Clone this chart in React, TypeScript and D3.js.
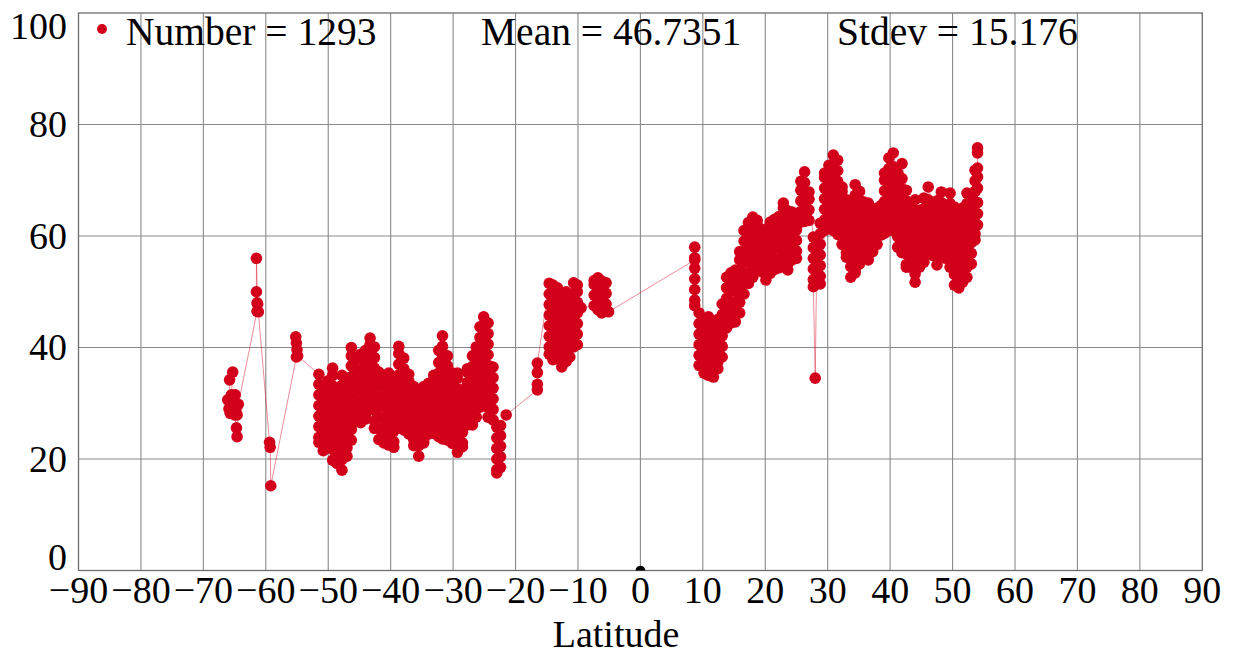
import * as d3 from 'd3'
import React, { useRef, useEffect } from 'react'

// Tick labels
const latTicks = [-90, -80, -70, -60, -50, -40, -30, -20, -10, 0, 10, 20, 30, 40, 50, 60, 70, 80, 90]
const valueTicks = [0, 20, 40, 60, 80, 100]
const legendLabels = ['Number = 1293', 'Mean = 46.7351', 'Stdev = 15.176']
const originMark: [number, number][] = [[0, 0]]

// Southern tip, single points [lat, value]
const southTip: [number, number][] = [
  [-66.1, 30.6], [-65.9, 29], [-65.8, 34.2], [-65.3, 35.6], [-65.5, 31.5], [-65.7, 28.2],
  [-65.2, 29.5], [-64.9, 31.5], [-64.8, 28.8], [-64.6, 27.9], [-65.0, 27.9], [-64.7, 25.6],
  [-64.6, 24], [-64.4, 29.8],
  [-61.4, 46.5], [-61.4, 48], [-61.5, 50], [-61.5, 56], [-61.3, 47.8], [-61.2, 46.4],
  [-59.4, 23], [-59.3, 22.1], [-59.2, 15.2],
  [-55.1, 38.3], [-55.0, 39.6], [-55.1, 40.8], [-55.2, 41.9], [-54.9, 38.5],
]

// Columns [lat, values at that lat], in track order
const southBand: [number, number[]][] = [
  [-51.5, [35.2, 33.4, 31.5, 29.6, 27.7, 25.8, 23.9, 23]],
  [-50.8, [21.5, 23.4, 25.3, 27.2, 29.1, 31, 33]],
  [-50.1, [34, 32.1, 30.2, 28.3, 26.4, 24.5, 22.4]],
  [-49.3, [19.8, 21.7, 23.6, 25.5, 27.4, 29.3, 31.2, 33.1, 35, 36.3]],
  [-48.6, [32.4, 30.5, 28.6, 26.7, 24.8, 22.9, 21, 19.2]],
  [-47.8, [18, 19.9, 21.8, 23.7, 25.6, 27.5, 29.4, 31.3, 33.2, 35]],
  [-47.0, [33.5, 31.6, 29.7, 27.8, 25.9, 24, 22, 20.5]],
  [-46.3, [23.4, 25.3, 27.2, 29.1, 31, 32.9, 34.8, 36.7, 38.5, 40]],
  [-45.6, [37.8, 35.9, 34, 32.1, 30.2, 28.3, 26.8]],
  [-44.8, [26.5, 28.4, 30.3, 32.2, 34.1, 36, 37.9, 38.8]],
  [-44.0, [39.5, 37.6, 35.7, 33.8, 31.9, 30, 28.1, 27.2]],
  [-43.3, [29.3, 31.2, 33.1, 35, 36.9, 38.8, 40.5, 41.7]],
  [-42.6, [40.1, 38.2, 36.3, 34.4, 32.5, 30.6, 28.7, 26.8, 25.5]],
  [-41.9, [23.5, 25.4, 27.3, 29.2, 31.1, 33, 34.9, 35.6]],
  [-41.1, [35, 33.1, 31.2, 29.3, 27.4, 25.5, 23.6, 22.9]],
  [-40.3, [22.5, 24.4, 26.3, 28.2, 30.1, 32, 33.9, 35.4]],
  [-39.5, [34.5, 32.6, 30.7, 28.8, 26.9, 25, 23.1, 22.1]],
  [-38.7, [25.6, 27.5, 29.4, 31.3, 33.2, 35.1, 37, 38.9, 40.2]],
  [-37.9, [38.1, 36.2, 34.3, 32.4, 30.5, 28.6, 26.7, 25.2]],
  [-37.1, [24.5, 26.4, 28.3, 30.2, 32.1, 34, 35.2]],
  [-36.3, [33, 31.1, 29.2, 27.3, 25.4, 23.5, 22.4]],
  [-35.5, [20.5, 22.4, 24.3, 26.2, 28.1, 30, 31.8]],
  [-34.7, [33, 31.1, 29.2, 27.3, 25.4, 23.5, 22.9]],
  [-33.9, [24.5, 26.4, 28.3, 30.2, 32.1, 33.6]],
  [-33.1, [35, 33.1, 31.2, 29.3, 27.4, 25.5, 24.6]],
  [-32.3, [24, 25.9, 27.8, 29.7, 31.6, 33.5, 35.4, 37.3, 39.5]],
  [-31.7, [42.1, 40.2, 38.3, 36.4, 34.5, 32.6, 30.7, 28.8, 26.9, 25, 23.6]],
  [-30.9, [23.4, 25.3, 27.2, 29.1, 31, 32.9, 34.8, 36.7, 38.5]],
  [-30.1, [35.4, 33.5, 31.6, 29.7, 27.8, 25.9, 24, 22.8]],
  [-29.3, [21.2, 23.1, 25, 26.9, 28.8, 30.7, 32.6, 34.5, 35.4]],
  [-28.5, [32.4, 30.5, 28.6, 26.7, 24.8, 22.9, 22.2]],
  [-27.7, [26.1, 28, 29.9, 31.8, 33.7, 35.6, 36.2]],
  [-26.9, [38.5, 36.6, 34.7, 32.8, 30.9, 29, 27.1, 26.1]],
  [-26.3, [27.5, 29.4, 31.3, 33.2, 35.1, 37, 38.9, 40.1]],
  [-25.7, [43.7, 41.8, 39.9, 38, 36.1, 34.2, 32.3, 30.4, 29.3]],
  [-25.1, [30, 31.9, 33.8, 35.7, 37.6, 39.5, 41.4, 43.3, 45.5]],
  [-24.4, [44.4, 42.5, 40.6, 38.7, 36.8, 34.9, 33, 31.1, 29.2, 27.5]],
  [-23.6, [27, 28.9, 30.8, 32.7, 34.6, 36.5]],
  [-23.0, [25.7, 23.8, 21.9, 20, 18.1, 17.5]],
  [-22.4, [18.5, 20.4, 22.3, 24.2, 26]],
  [-21.5, [27.9]],
]

const tropicSouth: [number, number[]][] = [
  [-16.5, [32.4, 33.4, 35.5, 37.2]],
  [-14.6, [51.5, 49.6, 47.7, 45.8, 43.9, 42, 40.1, 38.8]],
  [-14.0, [37.8, 39.7, 41.6, 43.5, 45.4, 47.3, 49.2, 51.2]],
  [-13.3, [50.7, 48.8, 46.9, 45, 43.1, 41.2, 39.3, 38]],
  [-12.6, [36.5, 38.4, 40.3, 42.2, 44.1, 46, 47.9, 49.5]],
  [-11.9, [50, 48.1, 46.2, 44.3, 42.4, 40.5, 38.6, 37.5]],
  [-11.3, [38.3, 40.2, 42.1, 44, 45.9, 47.8, 49]],
  [-10.7, [51.6, 49.7, 47.8, 45.9, 44, 42.1, 40.1]],
  [-10.1, [40.5, 42.4, 44.3, 46.2, 48.1, 50, 51.2]],
  [-9.5, [47.1]],
  [-7.4, [47.5, 49.4, 51.3, 52]],
  [-6.8, [52.5, 50.6, 48.7, 46.8]],
  [-6.2, [46.2, 48.1, 50, 51.9]],
  [-5.5, [51.6, 49.7, 47.8, 46.5]],
  [-5.1, [46.4]],
]

const northBand: [number, number[]][] = [
  [8.7, [55.7, 58, 56.1, 54.2, 52.3, 50.4, 48.5, 47.5]],
  [9.4, [46.2, 44.3, 42.4, 40.5, 38.6, 36.8]],
  [10.2, [35.4, 37.3, 39.2, 41.1, 43, 44.5]],
  [10.9, [45.5, 43.6, 41.7, 39.8, 37.9, 36, 35]],
  [11.7, [34.7, 36.6, 38.5, 40.4, 42.3, 43.8]],
  [12.4, [45, 43.1, 41.2, 39.3, 37.4, 36.2]],
  [13.1, [38.3, 40.2, 42.1, 44, 45.9, 47.8]],
  [13.8, [52.6, 50.7, 48.8, 46.9, 45, 43.5]],
  [14.5, [44.4, 46.3, 48.2, 50.1, 52, 53.4]],
  [15.2, [53.9, 52, 50.1, 48.2, 46.3, 44.6]],
  [15.9, [46.2, 48.1, 50, 51.9, 53.8, 55.7, 57.2]],
  [16.6, [61, 59.1, 57.2, 55.3, 53.4, 51.5, 49.6]],
  [17.3, [51.5, 53.4, 55.3, 57.2, 59.1, 61, 62.4]],
  [18.0, [63.4, 61.5, 59.6, 57.7, 55.8, 53.9, 52.6]],
  [18.7, [54.4, 56.3, 58.2, 60.1, 62, 62.8]],
  [19.4, [61, 59.1, 57.2, 55.3, 53.6]],
  [20.1, [52.1, 54, 55.9, 57.8, 59.7, 61.2]],
  [20.8, [62.5, 60.6, 58.7, 56.8, 54.9, 53.3]],
  [21.5, [54, 55.9, 57.8, 59.7, 61.6, 63]],
  [22.2, [63.5, 61.6, 59.7, 57.8, 55.9, 54.3]],
  [22.9, [55.5, 57.4, 59.3, 61.2, 63.1, 65, 65.9]],
  [23.6, [64.5, 62.6, 60.7, 58.8, 56.9, 55, 53.9]],
  [24.3, [55.7, 57.6, 59.5, 61.4, 63.3, 64.3]],
  [25.0, [63, 61.1, 59.2, 57.3, 56]],
  [25.7, [62.5, 64.4, 66.3, 68.2, 69.8]],
  [26.3, [71.5, 69.6, 67.7, 65.8, 63.9, 62.6]],
  [27.0, [62.8, 64.7, 66.6, 67.9]],
  [27.7, [59.8, 57.9, 56, 54.1, 52.2, 50.9]],
  [28.0, [34.5]],
  [28.2, [51.5, 53.4, 55.3, 57.2, 58.4]],
  [28.8, [62.3, 60.4, 58.5, 56.6, 54.7, 52.8, 51.4]],
  [29.5, [61, 62.9, 64.8, 66.7, 68.6, 70.5, 71.3]],
  [30.2, [72.7, 70.8, 68.9, 67, 65.1, 63.2, 62]],
  [30.9, [61, 62.9, 64.8, 66.7, 68.6, 70.5, 72.4, 74.5]],
  [31.6, [73.6, 71.7, 69.8, 67.9, 66, 64.1, 62.2, 60.3]],
  [32.3, [58.5, 60.4, 62.3, 64.2, 66.1, 68, 68.8]],
  [33.0, [66.5, 64.6, 62.7, 60.8, 58.9, 57, 56.2]],
  [33.7, [52.6, 54.5, 56.4, 58.3, 60.2, 62.1, 64, 66]],
  [34.4, [69.2, 67.3, 65.4, 63.5, 61.6, 59.7, 57.8, 55.9, 54, 53.4]],
  [35.1, [55, 56.9, 58.8, 60.7, 62.6, 64.5, 66.4, 68]],
  [35.8, [66.1, 64.2, 62.3, 60.4, 58.5, 56.6]],
  [36.5, [55.7, 57.6, 59.5, 61.4, 63.3, 65.2, 65.9]],
  [37.2, [63.5, 61.6, 59.7, 57.8, 57.2]],
  [37.9, [58.5, 60.4, 62.3, 64.2, 65]],
  [38.6, [65.5, 63.6, 61.7, 60.2]],
  [39.1, [60.5, 62.4, 64.3, 66.2, 68.1, 70, 71.3]],
  [39.8, [74, 72.1, 70.2, 68.3, 66.4, 64.5, 62.6, 61]],
  [40.5, [61, 62.9, 64.8, 66.7, 68.6, 70.5, 72.4, 74.9]],
  [41.2, [71.3, 69.4, 67.5, 65.6, 63.7, 61.8, 59.9, 58]],
  [41.9, [57, 58.9, 60.8, 62.7, 64.6, 66.5, 68.4, 70.3, 73]],
  [42.6, [68.2, 66.3, 64.4, 62.5, 60.6, 58.7, 56.8, 54.9, 54.4]],
  [43.3, [54.4, 56.3, 58.2, 60.1, 62, 63.9, 65.9]],
  [44.0, [66.5, 64.6, 62.7, 60.8, 58.9, 57, 55.1, 53.2, 51.7]],
  [44.7, [54.4, 56.3, 58.2, 60.1, 62, 63.9, 64.6]],
  [45.4, [66.8, 64.9, 63, 61.1, 59.2, 57.3, 55.3]],
  [46.1, [57, 58.9, 60.8, 62.7, 64.6, 66.5, 68.8]],
  [46.8, [66, 64.1, 62.2, 60.3, 58.4, 56.5]],
  [47.5, [54.8, 56.7, 58.6, 60.5, 62.4, 64.3, 66.3]],
  [48.2, [67.9, 66, 64.1, 62.2, 60.3, 58.4, 56.5]],
  [48.9, [56, 57.9, 59.8, 61.7, 63.6, 64.5]],
  [49.6, [67.7, 65.8, 63.9, 62, 60.1, 58.2, 56.3, 54.4]],
  [50.3, [51.2, 53.1, 55, 56.9, 58.8, 60.7, 62.6, 64.5, 65.2]],
  [51.0, [64, 62.1, 60.2, 58.3, 56.4, 54.5, 52.6, 50.7]],
  [51.6, [51.7, 53.6, 55.5, 57.4, 59.3, 61.2, 63.1, 65]],
  [52.3, [67.7, 65.8, 63.9, 62, 60.1, 58.2, 56.3, 54.4, 52.6]],
  [53.0, [55, 56.9, 58.8, 60.7, 62.6, 64.5, 66.5]],
  [53.6, [71.8, 69.9, 68, 66.1, 64.2, 62.3, 60.4, 59.3]],
  [54.0, [62, 64, 66, 68.6, 70.6, 72.2, 74.9, 75.8]],
]

const flatten = (cols: [number, number[]][]): [number, number][] =>
  cols.flatMap(([lat, vals]) => vals.map(v => [lat, v] as [number, number]))

const track: [number, number][] = [
  ...southTip,
  ...flatten(southBand),
  ...flatten(tropicSouth),
  ...flatten(northBand),
]

const RED = '#d2001a'
const FONT = '"Liberation Serif", "Times New Roman", serif'

const App = () => {
  const ref = useRef<SVGSVGElement | null>(null)

  useEffect(() => {
    const svg = d3.select(ref.current)
    svg.selectAll('*').remove()

    const left = 78.5
    const right = 1202.3
    const top = 13
    const bottom = 570.5

    const x = d3.scaleLinear().domain([-90, 90]).range([left, right])
    const y = d3.scaleLinear().domain([0, 100]).range([bottom, top])

    svg.append('defs').append('clipPath').attr('id', 'plot-clip')
      .append('rect')
      .attr('x', left).attr('y', top)
      .attr('width', right - left).attr('height', bottom - top)

    // Grid
    svg.append('g')
      .selectAll('line')
      .data(latTicks.slice(1, -1))
      .enter().append('line')
      .attr('x1', d => x(d)).attr('x2', d => x(d))
      .attr('y1', top).attr('y2', bottom)
      .attr('stroke', '#8a8a8a')
      .attr('stroke-width', 1.1)

    svg.append('g')
      .selectAll('line')
      .data(valueTicks.slice(1, -1))
      .enter().append('line')
      .attr('x1', left).attr('x2', right)
      .attr('y1', d => y(d)).attr('y2', d => y(d))
      .attr('stroke', '#8a8a8a')
      .attr('stroke-width', 1.1)

    // Frame
    svg.append('rect')
      .attr('x', left).attr('y', top)
      .attr('width', right - left).attr('height', bottom - top)
      .attr('fill', 'none')
      .attr('stroke', '#6e6e6e')
      .attr('stroke-width', 1.3)

    const plot = svg.append('g').attr('clip-path', 'url(#plot-clip)')

    // Connecting line
    const line = d3.line<[number, number]>()
      .x(d => x(d[0]))
      .y(d => y(d[1]))

    plot.append('path')
      .datum(track)
      .attr('d', line)
      .attr('fill', 'none')
      .attr('stroke', RED)
      .attr('stroke-opacity', 0.45)
      .attr('stroke-width', 1)

    // Points
    plot.append('g')
      .selectAll('circle')
      .data(track)
      .enter().append('circle')
      .attr('cx', d => x(d[0]))
      .attr('cy', d => y(d[1]))
      .attr('r', 5.8)
      .attr('fill', RED)

    plot.selectAll('.origin')
      .data(originMark)
      .enter().append('circle')
      .attr('class', 'origin')
      .attr('cx', d => x(d[0]))
      .attr('cy', d => y(d[1]))
      .attr('r', 4.8)
      .attr('fill', '#000')

    // Axis labels
    svg.append('g')
      .selectAll('text')
      .data(latTicks)
      .enter().append('text')
      .attr('x', d => x(d))
      .attr('y', 603)
      .attr('text-anchor', 'middle')
      .style('font-family', FONT)
      .style('font-size', '38px')
      .text(d => d3.format('d')(d))

    svg.append('g')
      .selectAll('text')
      .data(valueTicks)
      .enter().append('text')
      .attr('x', 67)
      .attr('y', d => Math.max(39, Math.min(570, y(d) + 12.5)))
      .attr('text-anchor', 'end')
      .style('font-family', FONT)
      .style('font-size', '38px')
      .text(d => d)

    svg.append('text')
      .attr('x', 616)
      .attr('y', 647)
      .attr('text-anchor', 'middle')
      .style('font-family', FONT)
      .style('font-size', '38px')
      .text('Latitude')

    // Legend / stats
    svg.append('circle')
      .attr('cx', 102).attr('cy', 29).attr('r', 5)
      .attr('fill', RED)

    const legendX = [126, 481, 837]
    svg.append('g')
      .selectAll('text')
      .data(legendLabels)
      .enter().append('text')
      .attr('x', (d, i) => legendX[i])
      .attr('y', 45)
      .style('font-family', FONT)
      .style('font-size', '39.5px')
      .text(d => d)
  }, [])

  return (
    <svg
      ref={ref}
      width={1233}
      height={653}
      style={{ position: 'absolute', left: 0, top: 0, background: '#fff' }}
    />
  )
}

export default App
